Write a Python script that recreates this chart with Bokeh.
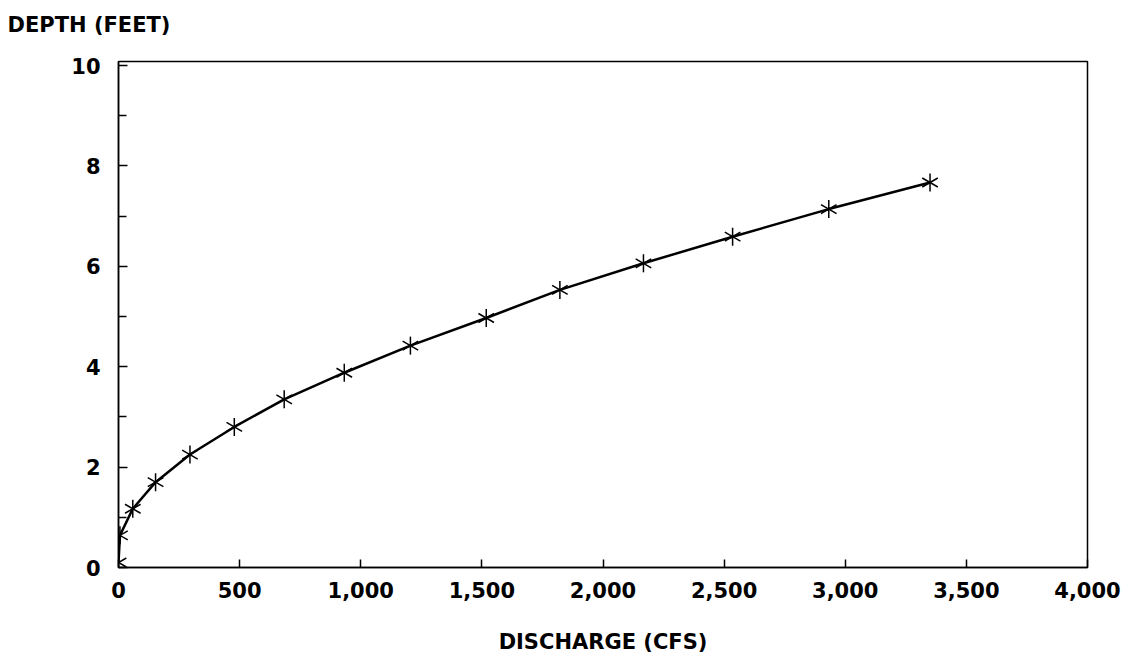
import math
from bokeh.plotting import figure
from bokeh.models import FixedTicker, Range1d, CustomJSTickFormatter
from bokeh.embed import file_html
from bokeh.resources import INLINE

discharge = [0, 6, 59, 153, 295, 478, 684, 932, 1205, 1518, 1822, 2167, 2535, 2932, 3350]
depth = [0.1, 0.64, 1.17, 1.70, 2.25, 2.80, 3.35, 3.88, 4.42, 4.97, 5.53, 6.06, 6.59, 7.14, 7.67]
x_ticks = [0, 500, 1000, 1500, 2000, 2500, 3000, 3500, 4000]
y_ticks = [0, 2, 4, 6, 8, 10]
y_minor = [1, 3, 5, 7, 9]
x_title = "DISCHARGE (CFS)"
y_title = "DEPTH (FEET)"

FONT = "DejaVu Sans"

p = figure(width=1128, height=659, output_backend="svg", toolbar_location=None,
           x_range=Range1d(0, 4000), y_range=Range1d(0, 10.08),
           title=y_title + "\n ")
p.min_border_left = 118
p.min_border_right = 41
p.min_border_top = 61
p.min_border_bottom = 92
p.background_fill_color = "white"
p.border_fill_color = "white"
p.grid.visible = False
p.outline_line_color = "black"
p.outline_line_width = 1.5

p.title.align = "left"
p.title.offset = -111
p.title.standoff = 2
p.title.text_font = FONT
p.title.text_font_style = "bold"
p.title.text_font_size = "21px"
p.title.text_color = "black"

xa = p.xaxis[0]
xa.ticker = FixedTicker(ticks=x_ticks, minor_ticks=[])
xa.formatter = CustomJSTickFormatter(code="return tick.toLocaleString('en-US');")
xa.major_tick_in = 8
xa.major_tick_out = 0
xa.minor_tick_in = 0
xa.minor_tick_out = 0
xa.axis_line_color = "black"
xa.axis_line_width = 1.5
xa.major_tick_line_width = 1.5
xa.major_label_text_font = FONT
xa.major_label_text_font_style = "bold"
xa.major_label_text_font_size = "21px"
xa.major_label_text_color = "black"
xa.major_label_standoff = 14
xa.axis_label = x_title
xa.axis_label_text_font = FONT
xa.axis_label_text_font_style = "bold"
xa.axis_label_text_font_size = "21px"
xa.axis_label_text_color = "black"
xa.axis_label_standoff = 29

ya = p.yaxis[0]
ya.ticker = FixedTicker(ticks=y_ticks, minor_ticks=y_minor)
ya.major_tick_in = 9
ya.major_tick_out = 0
ya.minor_tick_in = 8
ya.minor_tick_out = 0
ya.axis_line_color = "black"
ya.axis_line_width = 1.5
ya.major_tick_line_width = 1.5
ya.minor_tick_line_width = 1.5
ya.minor_tick_line_color = "black"
ya.major_label_text_font = FONT
ya.major_label_text_font_style = "bold"
ya.major_label_text_font_size = "21px"
ya.major_label_text_color = "black"
ya.major_label_standoff = 18

p.line(discharge, depth, line_color="black", line_width=2.5)
for ang in (math.pi / 2, math.pi / 6, -math.pi / 6):
    p.scatter(discharge, depth, marker="dash", size=18, angle=ang,
              line_color="black", line_width=1.5)

open("out.html", "w").write(file_html(p, INLINE))
